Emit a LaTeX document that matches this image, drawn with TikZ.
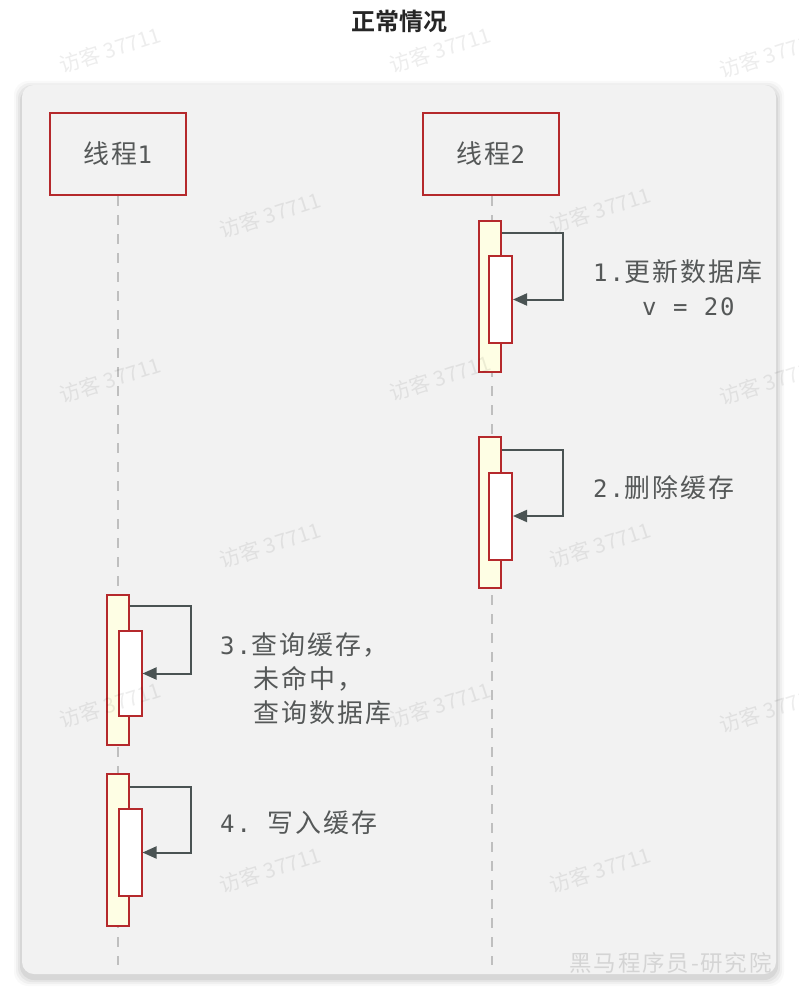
\documentclass[tikz,border=0pt]{standalone}
\usepackage{fontspec}
\usepackage{tikz}
\usetikzlibrary{arrows.meta}
\usepackage{xcolor}
\setmonofont[LetterSpace=8]{DejaVu Sans Mono}
\newfontfamily\cjk[Scale=1.08,LetterSpace=8]{Noto Sans CJK SC}
\newfontfamily\cjkplain{Noto Sans CJK SC}
\newfontfamily\cjkbold{Noto Sans CJK SC Bold}
\definecolor{panelbg}{HTML}{F2F2F2}
\definecolor{actred}{HTML}{B5292C}
\definecolor{actfill}{HTML}{FEFEE4}
\definecolor{msggray}{HTML}{4A5353}
\definecolor{txtgray}{HTML}{555858}

\begin{document}
\begin{tikzpicture}[x=1pt,y=-1pt,line cap=butt,
  hdr/.style={draw=actred,line width=2.4pt,fill=panelbg,minimum width=136pt,minimum height=82pt,
    text=txtgray,font=\fontsize{24}{28}\selectfont},
  lifeline/.style={draw=black!25,line width=2pt,dash pattern=on 10pt off 9pt},
  actouter/.style={draw=actred,line width=2pt,fill=actfill,minimum width=22pt,inner sep=0pt},
  actinner/.style={draw=actred,line width=2pt,fill=white,minimum width=23pt,minimum height=87pt,inner sep=0pt},
  selfmsg/.style={draw=msggray,line width=2pt,-{Triangle[length=14pt,width=12pt]}},
  lbl/.style={anchor=west,inner sep=0pt,text=txtgray,font=\fontsize{24}{34}\selectfont},
  wmark/.style={text=black,text opacity=0.07,rotate=18,font=\cjkplain\fontsize{21}{24}\selectfont}]
\useasboundingbox (0,0) rectangle (799,1000);
\fill[white] (0,0) rectangle (799,1000);
% title
\node[text=black!85,font=\cjkbold\fontsize{24}{26}\selectfont] (title) at (399,21) {正常情况};
% panel with soft shadow
\foreach \s/\o in {8/0.025,6/0.035,4/0.045,2/0.06}
  \fill[black,opacity=\o,rounded corners=14pt] (22-\s,85-\s+4) rectangle (776+\s,974+\s+4);
\fill[panelbg,rounded corners=12pt] (22,85) rectangle (776,974);
% threads
\node[hdr] (t1) at (118,154) {{\cjk 线程}{\ttfamily 1}};
\node[hdr] (t2) at (491,154) {{\cjk 线程}{\ttfamily 2}};
\coordinate (e1) at (118,965);
\coordinate (e2) at (492,965);
\draw[lifeline] (t1.south) -- (e1);
\draw[lifeline] ([xshift=1pt]t2.south) -- (e2);
% activations of thread 2
\node[actouter,minimum height=151pt] (a1o) at (490,296.5) {};
\node[actinner] (a1i) at (500.5,299.5) {};
\draw[selfmsg] ([yshift=-13pt]a1o.north east) -- ++(61,0) |- (a1i.east);
\node[actouter,minimum height=151pt] (a2o) at (490,512.5) {};
\node[actinner] (a2i) at (500.5,516) {};
\draw[selfmsg] ([yshift=-14pt]a2o.north east) -- ++(61,0) |- (a2i.east);
% activations of thread 1
\node[actouter,minimum height=150pt] (a3o) at (117.5,670) {};
\node[actinner,minimum height=85pt] (a3i) at (130,673.5) {};
\draw[selfmsg] ([yshift=-12pt]a3o.north east) -- ++(61,0) |- (a3i.east);
\node[actouter,minimum height=152pt] (a4o) at (117.5,849.5) {};
\node[actinner] (a4i) at (130,852.5) {};
\draw[selfmsg] ([yshift=-14pt]a4o.north east) -- ++(61,0) |- (a4i.east);
% labels
\node[lbl] (l1) at (593,272) {{\ttfamily 1.}{\cjk 更新数据库}};
\node[lbl] (l1b) at (642,307) {\ttfamily v = 20};
\node[lbl] (l2) at (593,488) {{\ttfamily 2.}{\cjk 删除缓存}};
\node[lbl] (l3) at (220,645) {{\ttfamily 3.}{\cjk 查询缓存，}};
\node[lbl] (l3b) at (253,679) {\cjk 未命中，};
\node[lbl] (l3c) at (253,713) {\cjk 查询数据库};
\node[lbl] (l4) at (220,823) {{\ttfamily 4. }{\cjk 写入缓存}};
\node[anchor=east,inner sep=0pt,font=\cjkplain\fontsize{22.5}{24}\selectfont,
  text=black,text opacity=0.12] (brand) at (772,963) {\addfontfeature{LetterSpace=8}黑马程序员-研究院};
% watermarks on top
\foreach \wx/\wy [count=\i] in {110/50,440/50,770/55,270/215,600/210,110/380,440/378,770/382,270/545,600/545,110/705,440/705,770/710,270/870,600/870}
  \node[wmark] (wm\i) at (\wx,\wy) {访客 37711};
\end{tikzpicture}
\end{document}
